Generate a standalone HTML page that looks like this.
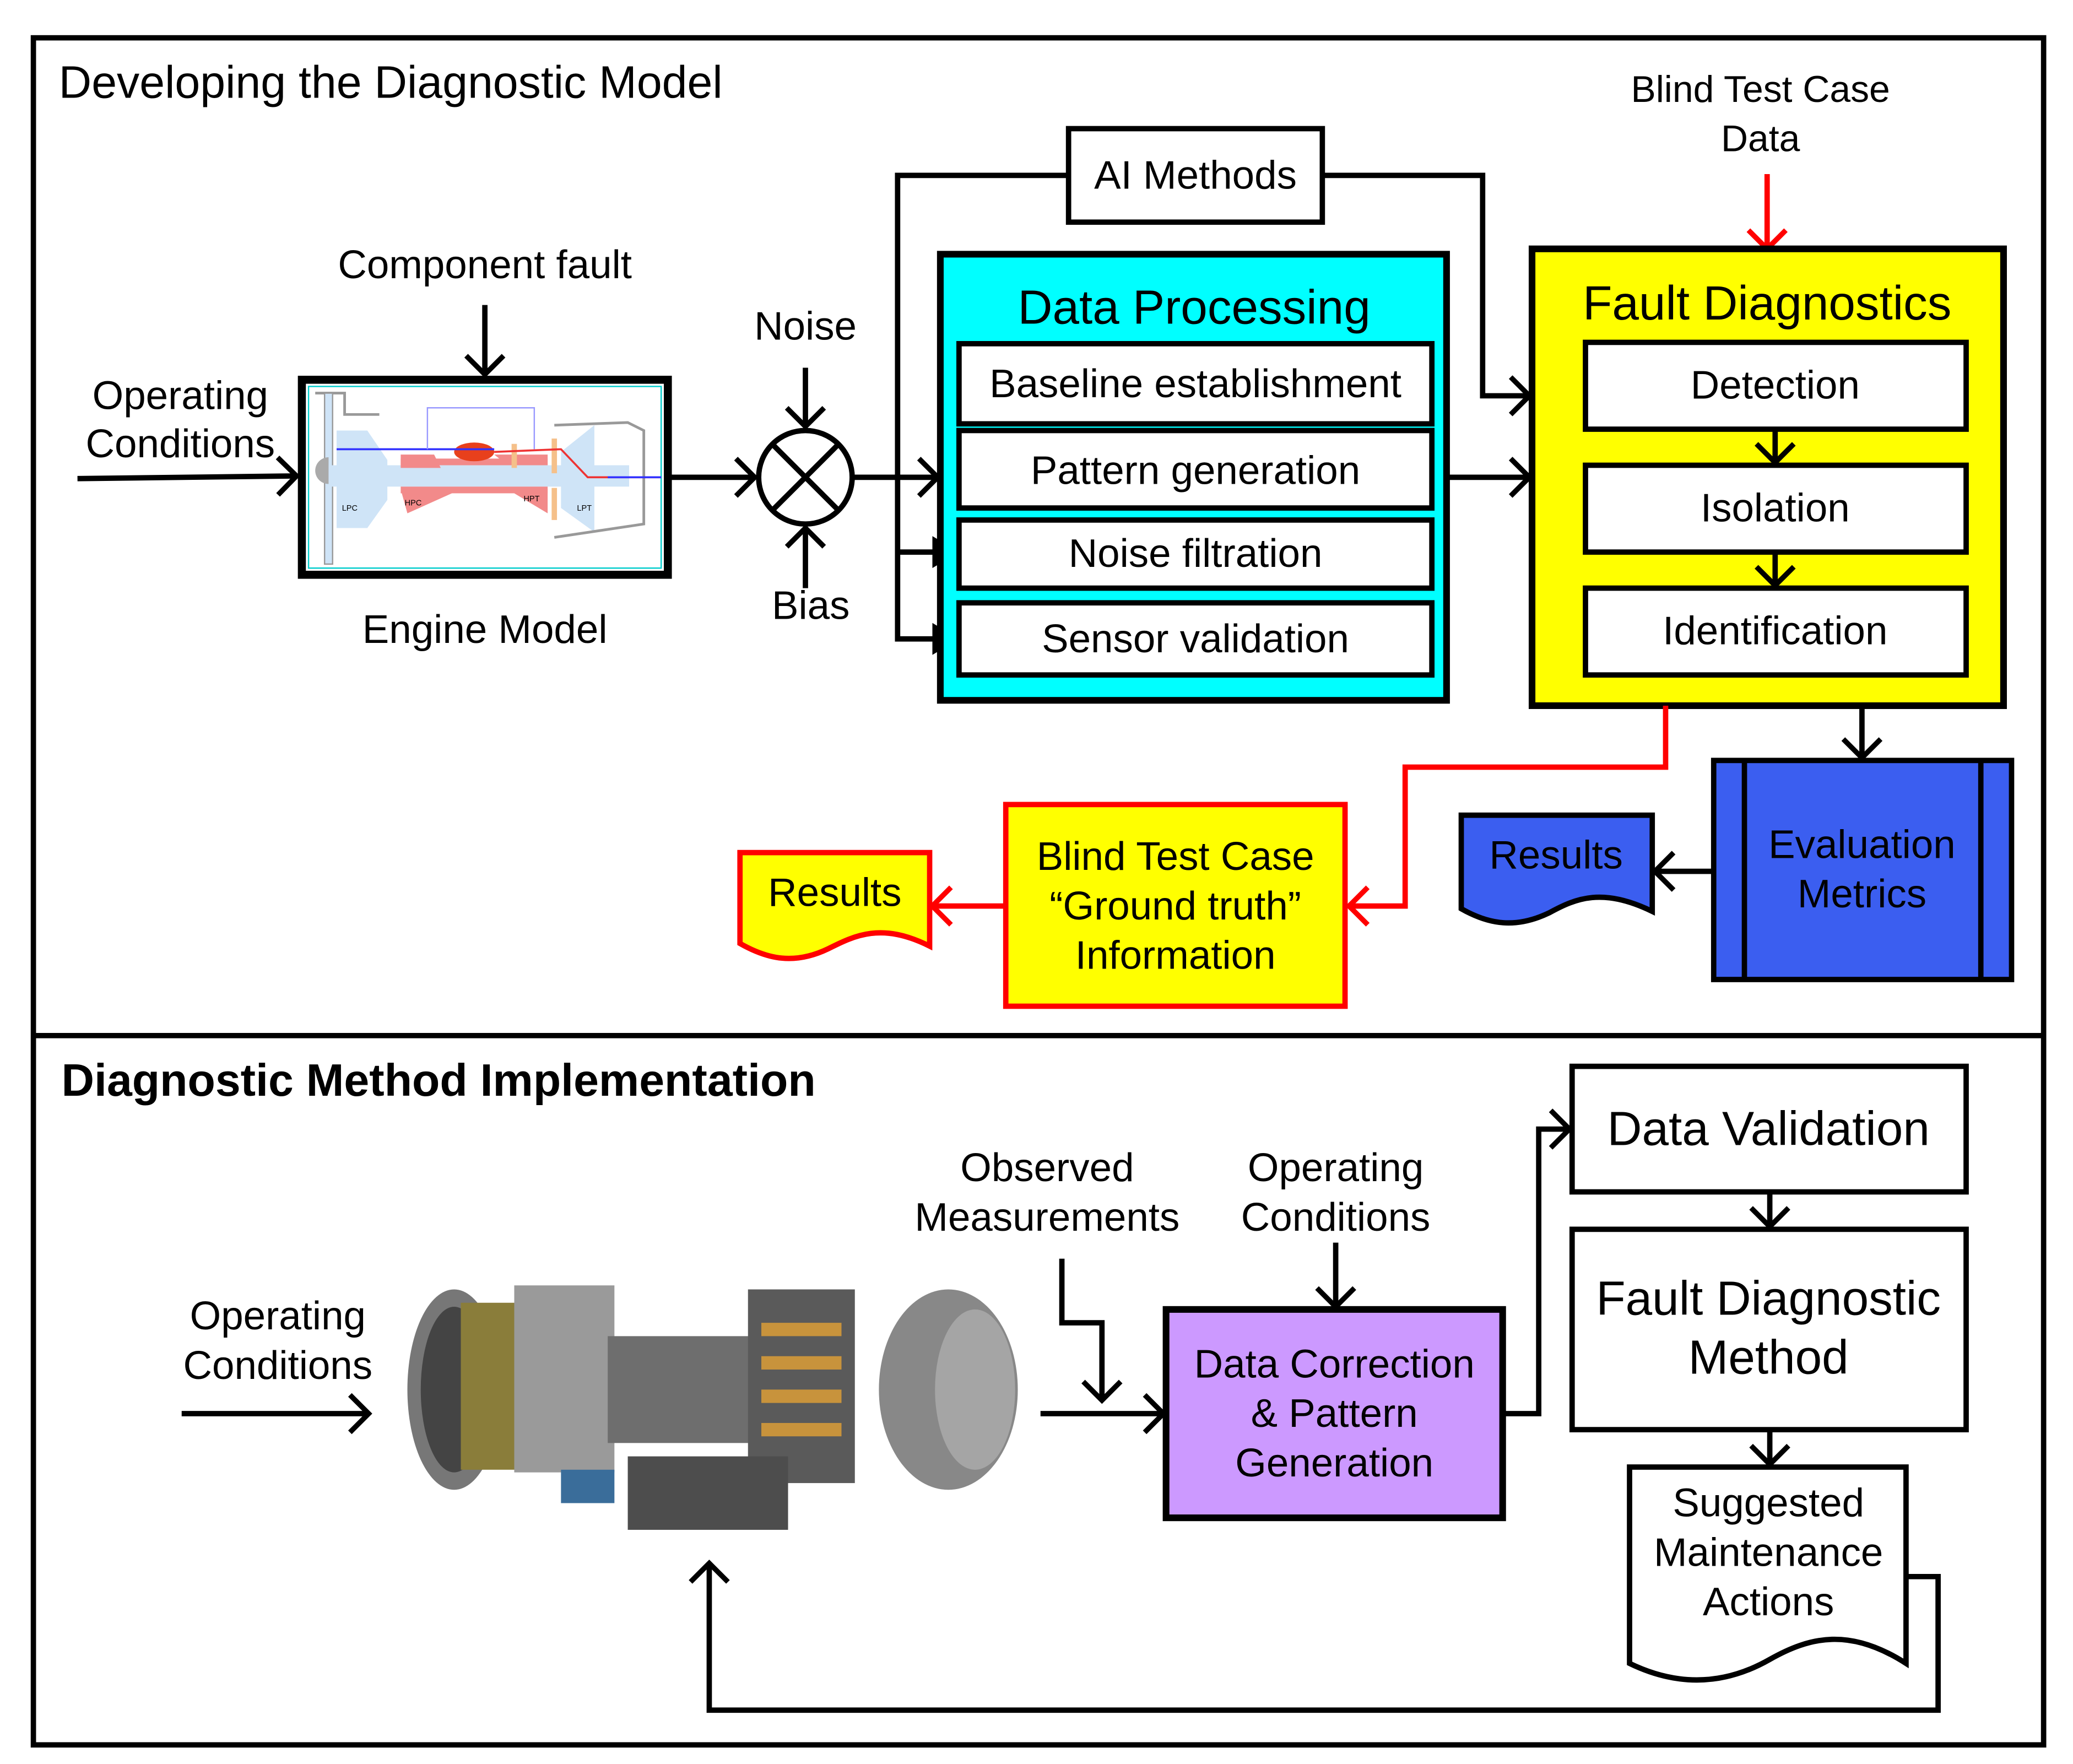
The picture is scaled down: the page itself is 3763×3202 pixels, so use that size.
<!DOCTYPE html>
<html><head><meta charset="utf-8"><style>
html,body{margin:0;padding:0;background:#fff}
svg{display:block}
text{font-family:"Liberation Sans",Arial,sans-serif;fill:#000}
</style></head><body>
<svg width="3763" height="3202" viewBox="0 0 1552 1320" xmlns="http://www.w3.org/2000/svg">
<defs>
<marker id="v" viewBox="0 0 20 20" refX="18" refY="10" markerWidth="14" markerHeight="14" markerUnits="userSpaceOnUse" orient="auto" overflow="visible">
<path d="M-2,-10 L18,10 L-2,30" fill="none" stroke="#000" stroke-width="5.5"/></marker>
<marker id="vr" viewBox="0 0 20 20" refX="18" refY="10" markerWidth="14" markerHeight="14" markerUnits="userSpaceOnUse" orient="auto" overflow="visible">
<path d="M-2,-10 L18,10 L-2,30" fill="none" stroke="#f00" stroke-width="5.5"/></marker>
<marker id="t" viewBox="0 0 20 20" refX="18" refY="10" markerWidth="20" markerHeight="24" markerUnits="userSpaceOnUse" orient="auto" preserveAspectRatio="none">
<path d="M0,0 L20,10 L0,20 z" fill="#000"/></marker>
</defs>
<rect width="1552" height="1320" fill="#fff"/>
<rect x="25" y="28" width="1505" height="1278" fill="none" stroke="#000" stroke-width="4"/>
<line x1="25" y1="775" x2="1530" y2="775" stroke="#000" stroke-width="4"/>

<text x="44" y="73" font-size="34">Developing the Diagnostic Model</text>
<text x="1318" y="76" font-size="28" text-anchor="middle">Blind Test Case</text>
<text x="1318" y="113" font-size="28" text-anchor="middle">Data</text>
<line x1="1323" y1="130" x2="1323" y2="186" stroke="#f00" stroke-width="4" marker-end="url(#vr)"/>

<g stroke="#000" stroke-width="4" fill="none">
<polyline points="800,131 672,131 672,478 716,478" marker-end="url(#t)"/>
<line x1="672" y1="413" x2="716" y2="413" marker-end="url(#t)"/>
<polyline points="990,131 1110,131 1110,296 1145,296" marker-end="url(#v)"/>
<line x1="1083" y1="357" x2="1145" y2="357" marker-end="url(#v)"/>
<line x1="639" y1="357" x2="702" y2="357" marker-end="url(#v)"/>
<line x1="502" y1="357" x2="565" y2="357" marker-end="url(#v)"/>
<line x1="58" y1="358" x2="222" y2="356" marker-end="url(#v)"/>
<line x1="363" y1="228" x2="363" y2="280" marker-end="url(#v)"/>
<line x1="603" y1="275" x2="603" y2="319" marker-end="url(#v)"/>
<line x1="603" y1="440" x2="603" y2="395" marker-end="url(#v)"/>
<circle cx="603" cy="357" r="35"/>
<line x1="578" y1="332" x2="628" y2="382"/><line x1="628" y1="332" x2="578" y2="382"/>
</g>
<rect x="800" y="96" width="190" height="70" fill="#fff" stroke="#000" stroke-width="4"/>
<text x="895" y="141" font-size="30" text-anchor="middle">AI Methods</text>

<text x="363" y="208" font-size="30" text-anchor="middle">Component fault</text>
<text x="135" y="306" font-size="30" text-anchor="middle">Operating</text>
<text x="135" y="342" font-size="30" text-anchor="middle">Conditions</text>
<text x="603" y="254" font-size="30" text-anchor="middle">Noise</text>
<text x="607" y="463" font-size="30" text-anchor="middle">Bias</text>
<text x="363" y="481" font-size="30" text-anchor="middle">Engine Model</text>

<!-- engine model -->
<rect x="226" y="284" width="274" height="146" fill="#fff" stroke="#000" stroke-width="6"/>
<rect x="231" y="289" width="264" height="136" fill="none" stroke="#0cc" stroke-width="1"/>
<g>
<path d="M236,294 L258,294 L258,310 L284,310" fill="none" stroke="#999" stroke-width="2"/>
<rect x="243" y="294" width="6" height="128" fill="#cfe4f7" stroke="#999"/>
<path d="M236,352 A10,10 0 0 1 246,342 L246,362 A10,10 0 0 1 236,352 z" fill="#aaa"/>
<path d="M252,322 L275,322 L290,344 L290,374 L275,395 L252,395 z" fill="#cfe4f7"/>
<rect x="246" y="348" width="225" height="16" fill="#cfe4f7"/>
<path d="M300,340 L325,340 L330,350 L300,350 z" fill="#f28a8a"/>
<path d="M300,366 L345,366 L345,366 L305,384 z" fill="#f28a8a"/>
<rect x="300" y="343" width="110" height="5" fill="#f28a8a"/>
<rect x="300" y="364" width="110" height="5" fill="#f28a8a"/>
<path d="M370,340 L410,340 L410,348 L380,348 z M380,366 L410,366 L410,384 z" fill="#f28a8a"/>
<ellipse cx="355" cy="338" rx="15" ry="7" fill="#e8401c"/>
<rect x="383" y="332" width="4" height="18" fill="#f5c08a"/>
<rect x="413" y="328" width="4" height="26" fill="#f5c08a"/>
<rect x="413" y="365" width="4" height="24" fill="#f5c08a"/>
<path d="M420,338 L445,318 L445,398 L420,380 z" fill="#cfe4f7"/>
<path d="M415,318 L470,316 L482,322 L482,392 L415,402" fill="none" stroke="#999" stroke-width="2"/>
<line x1="252" y1="336" x2="370" y2="336" stroke="#33f" stroke-width="1.5"/>
<polyline points="370,338 420,336 440,357 495,357" fill="none" stroke="#e33" stroke-width="1.5"/>
<line x1="455" y1="357" x2="495" y2="357" stroke="#33f" stroke-width="1.5"/>
<polyline points="320,336 320,305 400,305 400,336" fill="none" stroke="#99f" stroke-width="1"/>
<text x="256" y="382" font-size="6">LPC</text><text x="303" y="378" font-size="6" fill="#c33">HPC</text>
<text x="392" y="375" font-size="6">HPT</text><text x="432" y="382" font-size="6">LPT</text>
</g>

<!-- Data processing -->
<rect x="704" y="190" width="379" height="334" fill="#00ffff" stroke="#000" stroke-width="5"/>
<text x="894" y="242" font-size="36" text-anchor="middle">Data Processing</text>
<g fill="#fff" stroke="#000" stroke-width="4">
<rect x="718" y="257" width="354" height="60"/>
<rect x="718" y="322" width="354" height="58"/>
<rect x="718" y="389" width="354" height="51"/>
<rect x="718" y="451" width="354" height="54"/>
</g>
<g font-size="30" text-anchor="middle">
<text x="895" y="297">Baseline establishment</text>
<text x="895" y="362">Pattern generation</text>
<text x="895" y="424">Noise filtration</text>
<text x="895" y="488">Sensor validation</text>
</g>

<!-- Fault diagnostics -->
<rect x="1147" y="186" width="353" height="342" fill="#ffff00" stroke="#000" stroke-width="5"/>
<text x="1323" y="239" font-size="36" text-anchor="middle">Fault Diagnostics</text>
<g stroke="#000" stroke-width="4">
<line x1="1329" y1="321" x2="1329" y2="346" marker-end="url(#v)"/>
<line x1="1329" y1="413" x2="1329" y2="438" marker-end="url(#v)"/>
</g>
<g fill="#fff" stroke="#000" stroke-width="4">
<rect x="1187" y="256" width="285" height="65"/>
<rect x="1187" y="348" width="285" height="65"/>
<rect x="1187" y="440" width="285" height="65"/>
</g>
<g font-size="30" text-anchor="middle">
<text x="1329" y="298">Detection</text>
<text x="1329" y="390">Isolation</text>
<text x="1329" y="482">Identification</text>
</g>

<polyline points="1247,528 1247,574 1052,574 1052,678 1010,678" fill="none" stroke="#f00" stroke-width="4" marker-end="url(#vr)"/>
<line x1="753" y1="678" x2="698" y2="678" stroke="#f00" stroke-width="4" marker-end="url(#vr)"/>
<rect x="753" y="602" width="254" height="151" fill="#ffff00" stroke="#f00" stroke-width="4"/>
<g font-size="30" text-anchor="middle">
<text x="880" y="651">Blind Test Case</text>
<text x="880" y="688">“Ground truth”</text>
<text x="880" y="725">Information</text>
</g>
<path d="M554,638 L696,638 L696,708 C660,690 640,700 620,710 C595,722 575,718 554,706 z" fill="#ffff00" stroke="#f00" stroke-width="4"/>
<text x="625" y="678" font-size="30" text-anchor="middle">Results</text>

<line x1="1394" y1="528" x2="1394" y2="567" stroke="#000" stroke-width="4" marker-end="url(#v)"/>
<line x1="1283" y1="652" x2="1239" y2="652" stroke="#000" stroke-width="4" marker-end="url(#v)"/>
<rect x="1283" y="569" width="223" height="164" fill="#3b5ef0" stroke="#000" stroke-width="4"/>
<line x1="1306" y1="569" x2="1306" y2="733" stroke="#000" stroke-width="4"/>
<line x1="1483" y1="569" x2="1483" y2="733" stroke="#000" stroke-width="4"/>
<text x="1394" y="642" font-size="30" text-anchor="middle">Evaluation</text>
<text x="1394" y="679" font-size="30" text-anchor="middle">Metrics</text>
<path d="M1094,610 L1237,610 L1237,682 C1200,664 1180,672 1160,683 C1135,695 1115,692 1094,680 z" fill="#3b5ef0" stroke="#000" stroke-width="4"/>
<text x="1165" y="650" font-size="30" text-anchor="middle">Results</text>

<text x="46" y="820" font-size="34" font-weight="bold">Diagnostic Method Implementation</text>
<text x="208" y="995" font-size="30" text-anchor="middle">Operating</text>
<text x="208" y="1032" font-size="30" text-anchor="middle">Conditions</text>
<text x="784" y="884" font-size="30" text-anchor="middle">Observed</text>
<text x="784" y="921" font-size="30" text-anchor="middle">Measurements</text>
<text x="1000" y="884" font-size="30" text-anchor="middle">Operating</text>
<text x="1000" y="921" font-size="30" text-anchor="middle">Conditions</text>
<g stroke="#000" stroke-width="4" fill="none">
<line x1="136" y1="1058" x2="276" y2="1058" marker-end="url(#v)"/>
<polyline points="795,942 795,990 825,990 825,1048" marker-end="url(#v)"/>
<line x1="779" y1="1058" x2="871" y2="1058" marker-end="url(#v)"/>
<line x1="1000" y1="930" x2="1000" y2="978" marker-end="url(#v)"/>
<polyline points="1125,1058 1152,1058 1152,845 1175,845" marker-end="url(#v)"/>
<line x1="1325" y1="892" x2="1325" y2="918" marker-end="url(#v)"/>
<line x1="1325" y1="1070" x2="1325" y2="1096" marker-end="url(#v)"/>
<polyline points="1427,1180 1451,1180 1451,1280 531,1280 531,1170" marker-end="url(#v)"/>
</g>

<g>
<ellipse cx="340" cy="1040" rx="35" ry="75" fill="#777"/>
<ellipse cx="340" cy="1040" rx="25" ry="62" fill="#444"/>
<rect x="345" y="975" width="45" height="125" fill="#8a7d3a"/>
<rect x="385" y="962" width="75" height="140" fill="#9a9a9a"/>
<rect x="455" y="1000" width="120" height="80" fill="#6e6e6e"/>
<rect x="560" y="965" width="80" height="145" fill="#5a5a5a"/>
<g fill="#c8933c"><rect x="570" y="990" width="60" height="10"/><rect x="570" y="1015" width="60" height="10"/><rect x="570" y="1040" width="60" height="10"/><rect x="570" y="1065" width="60" height="10"/></g>
<ellipse cx="710" cy="1040" rx="52" ry="75" fill="#888"/>
<ellipse cx="730" cy="1040" rx="30" ry="60" fill="#a5a5a5"/>
<rect x="470" y="1090" width="120" height="55" fill="#4d4d4d"/>
<rect x="420" y="1100" width="40" height="25" fill="#3a6d9a"/>
</g>

<rect x="873" y="980" width="252" height="156" fill="#cc99ff" stroke="#000" stroke-width="5"/>
<g font-size="30" text-anchor="middle">
<text x="999" y="1031">Data Correction</text>
<text x="999" y="1068">&amp; Pattern</text>
<text x="999" y="1105">Generation</text>
</g>
<rect x="1177" y="798" width="295" height="94" fill="#fff" stroke="#000" stroke-width="4"/>
<text x="1324" y="857" font-size="36" text-anchor="middle">Data Validation</text>
<rect x="1177" y="920" width="295" height="150" fill="#fff" stroke="#000" stroke-width="4"/>
<text x="1324" y="984" font-size="36" text-anchor="middle">Fault Diagnostic</text>
<text x="1324" y="1028" font-size="36" text-anchor="middle">Method</text>
<path d="M1220,1098 L1427,1098 L1427,1245 C1385,1218 1355,1225 1325,1242 C1290,1262 1255,1262 1220,1245 z" fill="#fff" stroke="#000" stroke-width="4"/>
<g font-size="30" text-anchor="middle">
<text x="1324" y="1135">Suggested</text>
<text x="1324" y="1172">Maintenance</text>
<text x="1324" y="1209">Actions</text>
</g>
</svg>
</body></html>
